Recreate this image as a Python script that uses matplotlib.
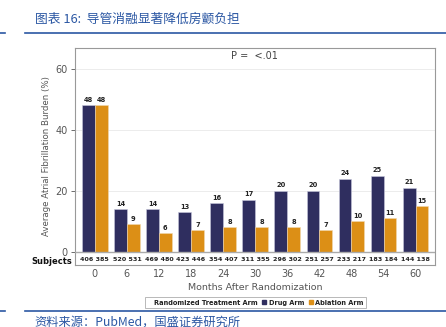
import numpy as np
import matplotlib.pyplot as plt
from matplotlib.patches import Patch
from matplotlib.lines import Line2D

plt.rcParams['font.family'] = ['DejaVu Sans', 'Noto Sans CJK SC']

months = [0, 6, 12, 18, 24, 30, 36, 42, 48, 54, 60]
drug = [48, 14, 14, 13, 16, 17, 20, 20, 24, 25, 21]
ablation = [48, 9, 6, 7, 8, 8, 8, 7, 10, 11, 15]
n_drug = [406, 520, 469, 423, 354, 311, 296, 251, 233, 183, 144]
n_ablation = [385, 531, 480, 446, 407, 355, 302, 257, 217, 184, 138]

navy = '#2f2e5f'
orange = '#dc8f16'
blue = '#2b57a3'
grey = '#555555'

fig = plt.figure(figsize=(4.46, 3.27), dpi=100)
ax = fig.add_axes([0.168, 0.19, 0.807, 0.664])

x = np.arange(len(months))
w = 0.40
ax.bar(x - w / 2, drug, w, color=navy, edgecolor='#c8c8dc', linewidth=0.4, zorder=3)
ax.bar(x + w / 2, ablation, w, color=orange, edgecolor='#f0d8b0', linewidth=0.4, zorder=3)

for xi, d, a in zip(x, drug, ablation):
    ax.text(xi - w / 2, d + 0.8, str(d), ha='center', va='bottom', fontsize=4.8,
            fontweight='bold', color='#222222')
    ax.text(xi + w / 2, a + 0.8, str(a), ha='center', va='bottom', fontsize=4.8,
            fontweight='bold', color='#222222')

# subject counts under the zero line
for xi, nd, na in zip(x, n_drug, n_ablation):
    ax.text(xi, -2.5, f'{nd} {na}', ha='center', va='center', fontsize=4.6,
            fontweight='bold', color='#222222')
ax.text(-0.72, -3.3, 'Subjects', ha='right', va='center', fontsize=6,
        fontweight='bold', color='#111111', clip_on=False)

ax.axhline(0, color='#aaaaaa', lw=1.0, zorder=4)
ax.set_xlim(-0.62, 10.6)
ax.set_ylim(-4.3, 66.9)
ax.set_yticks([0, 20, 40, 60])
ax.set_xticks(x)
ax.set_xticklabels([str(m) for m in months])
ax.tick_params(axis='y', labelsize=7, colors=grey, length=3, width=0.6, pad=2)
ax.tick_params(axis='x', labelsize=7, colors=grey, length=0, pad=3)
ax.yaxis.grid(True, color='#ececec', lw=0.7, zorder=0)
for s in ax.spines.values():
    s.set_color('#999999')
    s.set_linewidth(0.8)

ax.set_ylabel('Average Atrial Fibrillation Burden (%)', fontsize=6.2, color=grey, labelpad=3)
ax.set_xlabel('Months After Randomization', fontsize=6.8, color=grey, labelpad=3)
ax.text(0.5, 0.985, 'P =  <.01', transform=ax.transAxes, ha='center', va='top',
        fontsize=7, color='#444444')

handles = [Patch(visible=False), Line2D([], [], ls='', marker='s', ms=3.5, color=navy),
           Line2D([], [], ls='', marker='s', ms=3.5, color=orange)]
labels = ['Randomized Treatment Arm', 'Drug Arm', 'Ablation Arm']
leg = fig.legend(handles, labels, ncol=3, loc='center', bbox_to_anchor=(0.573, 0.074),
                 fontsize=4.8, frameon=True, fancybox=False, handlelength=0.7,
                 handletextpad=0.3, columnspacing=0.6, borderpad=0.35)
leg.get_frame().set_edgecolor('#999999')
leg.get_frame().set_linewidth(0.6)
for t in leg.get_texts():
    t.set_fontweight('bold')
    t.set_color('#222222')

# header and footer of the report page
cjk = ['Noto Sans CJK SC', 'DejaVu Sans']
fig.text(0.078, 0.942, '图表 16:  导管消融显著降低房颤负担', fontsize=9.2, color=blue,
         family=cjk, va='center')
fig.text(0.078, 0.016, '资料来源：PubMed，国盛证券研究所', fontsize=8.8, color=blue,
         family=cjk, va='center')
for yy in (0.899, 0.049):
    fig.add_artist(Line2D([0, 0.012], [yy, yy], color=blue, lw=1.2))
    fig.add_artist(Line2D([0.056, 1], [yy, yy], color=blue, lw=1.2))

fig.savefig('out.png', dpi=100)
